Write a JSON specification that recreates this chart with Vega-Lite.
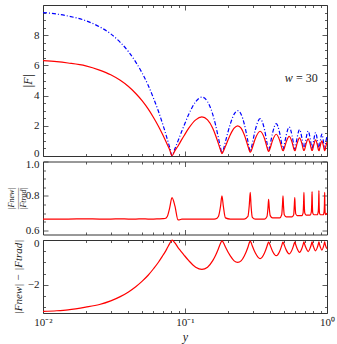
{
 "$schema": "https://vega.github.io/schema/vega-lite/v6.json",
 "padding": {"left": 6, "top": 4, "right": 5, "bottom": 2},
 "spacing": 5.5,
 "bounds": "flush",
 "config": {
  "font": "Liberation Serif",
  "view": {"stroke": "#333", "strokeWidth": 1},
  "axis": {"domain": false, "grid": false, "tickColor": "#333", "tickWidth": 0.8, "labelFont": "Liberation Serif", "labelFontSize": 11, "labelColor": "#222", "titleFont": "Liberation Serif", "titleFontWeight": "normal", "titleColor": "#222", "labelFlush": false, "labelOverlap": false, "labelPadding": 9},
  "line": {"strokeWidth": 1.2, "clip": true}
 },
 "datasets": {"c": [
  {"y":0.01,"B":9.50,"R":6.32,"Q":0.665,"D":-3.18},
  {"y":0.0125,"B":9.40,"R":6.25,"Q":0.665,"D":-3.15},
  {"y":0.015,"B":9.27,"R":6.16,"Q":0.665,"D":-3.11},
  {"y":0.02,"B":8.96,"R":5.97,"Q":0.666,"D":-2.99},
  {"y":0.025,"B":8.56,"R":5.69,"Q":0.665,"D":-2.87},
  {"y":0.03,"B":8.09,"R":5.38,"Q":0.665,"D":-2.71},
  {"y":0.035,"B":7.53,"R":5.01,"Q":0.666,"D":-2.52},
  {"y":0.04,"B":6.91,"R":4.60,"Q":0.665,"D":-2.31},
  {"y":0.045,"B":6.22,"R":4.14,"Q":0.665,"D":-2.08},
  {"y":0.05,"B":5.48,"R":3.65,"Q":0.666,"D":-1.83},
  {"y":0.055,"B":4.69,"R":3.12,"Q":0.665,"D":-1.57},
  {"y":0.06,"B":3.83,"R":2.55,"Q":0.665,"D":-1.28},
  {"y":0.065,"B":2.96,"R":1.97,"Q":0.666,"D":-0.99},
  {"y":0.07,"B":2.05,"R":1.37,"Q":0.667,"D":-0.68},
  {"y":0.0723,"B":1.63,"R":1.09,"Q":0.668,"D":-0.54},
  {"y":0.075,"B":1.12,"R":0.76,"Q":0.68,"D":-0.36},
  {"y":0.078,"B":0.57,"R":0.41,"Q":0.73,"D":-0.16},
  {"y":0.081,"B":0.03,"R":0.024,"Q":0.79,"D":-0.006},
  {"y":0.085,"B":0.49,"R":0.36,"Q":0.74,"D":-0.13},
  {"y":0.0893,"B":1.00,"R":0.66,"Q":0.66,"D":-0.34},
  {"y":0.0911,"B":1.21,"R":0.80,"Q":0.66,"D":-0.41},
  {"y":0.095,"B":1.65,"R":1.10,"Q":0.665,"D":-0.55},
  {"y":0.0987,"B":2.04,"R":1.36,"Q":0.665,"D":-0.68},
  {"y":0.1063,"B":2.76,"R":1.84,"Q":0.665,"D":-0.92},
  {"y":0.1189,"B":3.60,"R":2.39,"Q":0.665,"D":-1.21},
  {"y":0.1315,"B":3.90,"R":2.59,"Q":0.665,"D":-1.31},
  {"y":0.1441,"B":3.60,"R":2.39,"Q":0.665,"D":-1.21},
  {"y":0.1568,"B":2.76,"R":1.84,"Q":0.665,"D":-0.92},
  {"y":0.1643,"B":2.04,"R":1.36,"Q":0.666,"D":-0.68},
  {"y":0.1719,"B":1.21,"R":0.82,"Q":0.68,"D":-0.39},
  {"y":0.178,"B":0.53,"R":0.39,"Q":0.74,"D":-0.14},
  {"y":0.182,"B":0.20,"R":0.16,"Q":0.80,"D":-0.04},
  {"y":0.1862,"B":0.425,"R":0.31,"Q":0.74,"D":-0.11},
  {"y":0.1926,"B":0.948,"R":0.637,"Q":0.672,"D":-0.311},
  {"y":0.2085,"B":2.12,"R":1.41,"Q":0.665,"D":-0.71},
  {"y":0.2218,"B":2.77,"R":1.84,"Q":0.665,"D":-0.93},
  {"y":0.235,"B":3.00,"R":2.00,"Q":0.665,"D":-1.00},
  {"y":0.2483,"B":2.77,"R":1.84,"Q":0.665,"D":-0.93},
  {"y":0.2615,"B":2.12,"R":1.41,"Q":0.665,"D":-0.71},
  {"y":0.2774,"B":0.974,"R":0.66,"Q":0.68,"D":-0.32},
  {"y":0.2838,"B":0.48,"R":0.36,"Q":0.75,"D":-0.12},
  {"y":0.288,"B":0.30,"R":0.25,"Q":0.82,"D":-0.05},
  {"y":0.292,"B":0.43,"R":0.32,"Q":0.74,"D":-0.11},
  {"y":0.298,"B":0.82,"R":0.55,"Q":0.675,"D":-0.27},
  {"y":0.313,"B":1.746,"R":1.16,"Q":0.665,"D":-0.58},
  {"y":0.338,"B":2.47,"R":1.64,"Q":0.665,"D":-0.83},
  {"y":0.363,"B":1.746,"R":1.16,"Q":0.665,"D":-0.58},
  {"y":0.378,"B":0.86,"R":0.58,"Q":0.68,"D":-0.28},
  {"y":0.384,"B":0.505,"R":0.37,"Q":0.73,"D":-0.14},
  {"y":0.388,"B":0.40,"R":0.31,"Q":0.78,"D":-0.09},
  {"y":0.3921,"B":0.48,"R":0.35,"Q":0.73,"D":-0.13},
  {"y":0.3982,"B":0.77,"R":0.53,"Q":0.685,"D":-0.24},
  {"y":0.4135,"B":1.513,"R":1.02,"Q":0.672,"D":-0.50},
  {"y":0.439,"B":2.14,"R":1.44,"Q":0.672,"D":-0.70},
  {"y":0.4645,"B":1.513,"R":1.02,"Q":0.672,"D":-0.50},
  {"y":0.4798,"B":0.80,"R":0.55,"Q":0.69,"D":-0.25},
  {"y":0.4859,"B":0.52,"R":0.39,"Q":0.75,"D":-0.13},
  {"y":0.49,"B":0.45,"R":0.36,"Q":0.80,"D":-0.09},
  {"y":0.4941,"B":0.51,"R":0.38,"Q":0.74,"D":-0.13},
  {"y":0.5003,"B":0.745,"R":0.51,"Q":0.69,"D":-0.23},
  {"y":0.5158,"B":1.357,"R":0.92,"Q":0.678,"D":-0.44},
  {"y":0.5415,"B":1.92,"R":1.30,"Q":0.678,"D":-0.62},
  {"y":0.5673,"B":1.357,"R":0.92,"Q":0.678,"D":-0.44},
  {"y":0.5827,"B":0.745,"R":0.51,"Q":0.69,"D":-0.23},
  {"y":0.5889,"B":0.51,"R":0.38,"Q":0.75,"D":-0.13},
  {"y":0.593,"B":0.45,"R":0.36,"Q":0.79,"D":-0.095},
  {"y":0.5968,"B":0.50,"R":0.37,"Q":0.74,"D":-0.13},
  {"y":0.6025,"B":0.70,"R":0.49,"Q":0.695,"D":-0.21},
  {"y":0.6168,"B":1.237,"R":0.85,"Q":0.685,"D":-0.39},
  {"y":0.6405,"B":1.75,"R":1.20,"Q":0.685,"D":-0.55},
  {"y":0.6643,"B":1.237,"R":0.85,"Q":0.685,"D":-0.39},
  {"y":0.6785,"B":0.70,"R":0.49,"Q":0.70,"D":-0.21},
  {"y":0.6842,"B":0.50,"R":0.38,"Q":0.76,"D":-0.12},
  {"y":0.688,"B":0.45,"R":0.37,"Q":0.82,"D":-0.08},
  {"y":0.6919,"B":0.495,"R":0.37,"Q":0.75,"D":-0.125},
  {"y":0.6977,"B":0.68,"R":0.47,"Q":0.70,"D":-0.21},
  {"y":0.7123,"B":1.167,"R":0.80,"Q":0.688,"D":-0.36},
  {"y":0.7365,"B":1.65,"R":1.135,"Q":0.688,"D":-0.515},
  {"y":0.7608,"B":1.167,"R":0.80,"Q":0.688,"D":-0.36},
  {"y":0.7753,"B":0.68,"R":0.48,"Q":0.705,"D":-0.20},
  {"y":0.7811,"B":0.495,"R":0.38,"Q":0.76,"D":-0.12},
  {"y":0.785,"B":0.45,"R":0.37,"Q":0.825,"D":-0.08},
  {"y":0.7887,"B":0.49,"R":0.37,"Q":0.75,"D":-0.12},
  {"y":0.7942,"B":0.657,"R":0.46,"Q":0.70,"D":-0.20},
  {"y":0.808,"B":1.096,"R":0.756,"Q":0.69,"D":-0.34},
  {"y":0.831,"B":1.55,"R":1.07,"Q":0.69,"D":-0.48},
  {"y":0.854,"B":1.096,"R":0.756,"Q":0.69,"D":-0.34},
  {"y":0.8678,"B":0.657,"R":0.46,"Q":0.71,"D":-0.19},
  {"y":0.8733,"B":0.49,"R":0.37,"Q":0.76,"D":-0.12},
  {"y":0.877,"B":0.45,"R":0.37,"Q":0.83,"D":-0.08},
  {"y":0.8804,"B":0.485,"R":0.36,"Q":0.75,"D":-0.12},
  {"y":0.8856,"B":0.634,"R":0.44,"Q":0.70,"D":-0.19},
  {"y":0.8985,"B":1.025,"R":0.71,"Q":0.69,"D":-0.32},
  {"y":0.92,"B":1.45,"R":1.00,"Q":0.69,"D":-0.45},
  {"y":0.9415,"B":1.025,"R":0.71,"Q":0.69,"D":-0.32},
  {"y":0.9544,"B":0.634,"R":0.45,"Q":0.71,"D":-0.18},
  {"y":0.9596,"B":0.485,"R":0.37,"Q":0.76,"D":-0.115},
  {"y":0.963,"B":0.45,"R":0.37,"Q":0.82,"D":-0.08},
  {"y":0.9662,"B":0.48,"R":0.36,"Q":0.75,"D":-0.12},
  {"y":0.971,"B":0.615,"R":0.43,"Q":0.70,"D":-0.185},
  {"y":0.983,"B":0.96,"R":0.66,"Q":0.69,"D":-0.30},
  {"y":1.0,"B":1.30,"R":0.91,"Q":0.70,"D":-0.39}
 ]},
 "vconcat": [
  {
   "width": 284, "height": 151,
   "layer": [
    {"data": {"name": "c"}, "mark": {"type": "line", "color": "#0000ff", "strokeDash": [4, 2, 1, 2], "strokeWidth": 1.2, "interpolate": "monotone"},
     "encoding": {
      "x": {"field": "y", "type": "quantitative", "scale": {"type": "log", "domain": [0.01, 1], "nice": false},
            "axis": {"orient": "bottom", "values": [0.01,0.02,0.03,0.04,0.05,0.06,0.07,0.08,0.09,0.1,0.2,0.3,0.4,0.5,0.6,0.7,0.8,0.9,1], "tickSize": {"condition": {"test": "datum.value == 0.01 || datum.value == 0.1 || datum.value == 1", "value": -5}, "value": -2.5}, "labels": false, "title": null}},
      "y": {"field": "B", "type": "quantitative", "scale": {"domain": [0, 10], "nice": false, "zero": false},
            "axis": {"orient": "left", "values": [0,0.5,1,1.5,2,2.5,3,3.5,4,4.5,5,5.5,6,6.5,7,7.5,8,8.5,9,9.5], "tickSize": {"condition": {"test": "datum.value % 2 == 0", "value": -5}, "value": -2.5}, "labelExpr": "datum.value % 2 == 0 ? format(datum.value, 'd') : ''", "labelOffset": {"condition": {"test": "datum.value == 0", "value": -3}, "value": 0}, "title": "|F|", "titleFontStyle": "italic", "titleFontSize": 12, "titleX": -16, "titleBaseline": "middle"}}
     }},
    {"data": {"name": "c"}, "mark": {"type": "line", "color": "#ff0000", "strokeWidth": 1.2, "interpolate": "monotone"},
     "encoding": {
      "x": {"field": "y", "type": "quantitative", "scale": {"type": "log", "domain": [0.01, 1], "nice": false},
            "axis": {"orient": "top", "values": [0.01,0.02,0.03,0.04,0.05,0.06,0.07,0.08,0.09,0.1,0.2,0.3,0.4,0.5,0.6,0.7,0.8,0.9,1], "tickSize": {"condition": {"test": "datum.value == 0.01 || datum.value == 0.1 || datum.value == 1", "value": -5}, "value": -2.5}, "labels": false, "title": null}},
      "y": {"field": "R", "type": "quantitative", "scale": {"domain": [0, 10], "nice": false, "zero": false},
            "axis": {"orient": "right", "values": [0,0.5,1,1.5,2,2.5,3,3.5,4,4.5,5,5.5,6,6.5,7,7.5,8,8.5,9,9.5], "tickSize": {"condition": {"test": "datum.value % 2 == 0", "value": -5}, "value": -2.5}, "labels": false, "title": null}}
     }},
    {"data": {"values": [{}]}, "mark": {"type": "text", "text": "w", "fontStyle": "italic", "fontSize": 12, "align": "left", "baseline": "middle", "color": "#222", "font": "Liberation Serif"},
     "encoding": {"x": {"datum": 0.505, "type": "quantitative", "axis": null}, "y": {"datum": 5.17, "type": "quantitative", "axis": null}}},
    {"data": {"values": [{}]}, "mark": {"type": "text", "text": "= 30", "fontSize": 12, "align": "left", "baseline": "middle", "color": "#222", "font": "Liberation Serif"},
     "encoding": {"x": {"datum": 0.605, "type": "quantitative", "axis": null}, "y": {"datum": 5.17, "type": "quantitative", "axis": null}}}
   ],
   "resolve": {"axis": {"x": "independent", "y": "independent"}}
  },
  {
   "width": 284, "height": 73,
   "layer": [
    {"data": {"name": "c"}, "mark": {"type": "line", "color": "#ff0000", "strokeWidth": 1.2, "interpolate": "monotone"},
     "encoding": {
      "x": {"field": "y", "type": "quantitative", "scale": {"type": "log", "domain": [0.01, 1], "nice": false},
            "axis": {"orient": "bottom", "values": [0.01,0.02,0.03,0.04,0.05,0.06,0.07,0.08,0.09,0.1,0.2,0.3,0.4,0.5,0.6,0.7,0.8,0.9,1], "tickSize": {"condition": {"test": "datum.value == 0.01 || datum.value == 0.1 || datum.value == 1", "value": -5}, "value": -2.5}, "labels": false, "title": null}},
      "y": {"field": "Q", "type": "quantitative", "scale": {"domain": [0.575, 1.0], "nice": false, "zero": false},
            "axis": {"orient": "left", "values": [0.6,0.65,0.7,0.75,0.8,0.85,0.9,0.95,1], "tickSize": {"condition": {"test": "datum.value == 0.6 || datum.value == 0.8 || datum.value == 1", "value": -5}, "value": -2.5}, "labelExpr": "(datum.value == 0.6 || datum.value == 0.8 || datum.value == 1) ? format(datum.value, '.1f') : ''", "labelOffset": {"condition": {"test": "datum.value == 1", "value": 3}, "value": 0}, "title": ["|Fnew|", "———", "|Ftrad|"], "titleFontStyle": "italic", "titleFontSize": 8, "titleLineHeight": 6, "titleX": -32, "titleBaseline": "middle"}}
     }},
    {"data": {"name": "c"}, "mark": {"type": "line", "color": "#ff0000", "opacity": 0},
     "encoding": {
      "x": {"field": "y", "type": "quantitative", "scale": {"type": "log", "domain": [0.01, 1], "nice": false},
            "axis": {"orient": "top", "values": [0.01,0.02,0.03,0.04,0.05,0.06,0.07,0.08,0.09,0.1,0.2,0.3,0.4,0.5,0.6,0.7,0.8,0.9,1], "tickSize": {"condition": {"test": "datum.value == 0.01 || datum.value == 0.1 || datum.value == 1", "value": -5}, "value": -2.5}, "labels": false, "title": null}},
      "y": {"field": "Q", "type": "quantitative", "scale": {"domain": [0.575, 1.0], "nice": false, "zero": false},
            "axis": {"orient": "right", "values": [0.6,0.65,0.7,0.75,0.8,0.85,0.9,0.95,1], "tickSize": {"condition": {"test": "datum.value == 0.6 || datum.value == 0.8 || datum.value == 1", "value": -5}, "value": -2.5}, "labels": false, "title": null}}
     }}
   ],
   "resolve": {"axis": {"x": "independent", "y": "independent"}}
  },
  {
   "width": 284, "height": 73,
   "layer": [
    {"data": {"name": "c"}, "mark": {"type": "line", "color": "#ff0000", "strokeWidth": 1.2, "interpolate": "monotone"},
     "encoding": {
      "x": {"field": "y", "type": "quantitative", "scale": {"type": "log", "domain": [0.01, 1], "nice": false},
            "axis": {"orient": "bottom", "values": [0.01,0.02,0.03,0.04,0.05,0.06,0.07,0.08,0.09,0.1,0.2,0.3,0.4,0.5,0.6,0.7,0.8,0.9,1], "tickSize": {"condition": {"test": "datum.value == 0.01 || datum.value == 0.1 || datum.value == 1", "value": -5}, "value": -2.5}, "labelExpr": "datum.value == 0.01 ? '10⁻²' : datum.value == 0.1 ? '10⁻¹' : datum.value == 1 ? '10⁰' : ''", "labelPadding": 8, "title": "y", "titleFontStyle": "italic", "titleFontSize": 12, "titlePadding": 2}},
      "y": {"field": "D", "type": "quantitative", "scale": {"domain": [-3.25, 0], "nice": false, "zero": false},
            "axis": {"orient": "left", "values": [-3,-2.5,-2,-1.5,-1,-0.5,0], "tickSize": {"condition": {"test": "datum.value == 0 || datum.value == -2", "value": -5}, "value": -2.5}, "labelExpr": "datum.value == 0 ? '0' : datum.value == -2 ? '−2' : ''", "labelOffset": {"condition": {"test": "datum.value == 0", "value": 3}, "value": 0}, "title": "|Fnew| − |Ftrad|", "titleFontStyle": "italic", "titleFontSize": 11, "titleX": -25, "titleBaseline": "middle"}}
     }},
    {"data": {"name": "c"}, "mark": {"type": "line", "color": "#ff0000", "opacity": 0},
     "encoding": {
      "x": {"field": "y", "type": "quantitative", "scale": {"type": "log", "domain": [0.01, 1], "nice": false},
            "axis": {"orient": "top", "values": [0.01,0.02,0.03,0.04,0.05,0.06,0.07,0.08,0.09,0.1,0.2,0.3,0.4,0.5,0.6,0.7,0.8,0.9,1], "tickSize": {"condition": {"test": "datum.value == 0.01 || datum.value == 0.1 || datum.value == 1", "value": -5}, "value": -2.5}, "labels": false, "title": null}},
      "y": {"field": "D", "type": "quantitative", "scale": {"domain": [-3.25, 0], "nice": false, "zero": false},
            "axis": {"orient": "right", "values": [-3,-2.5,-2,-1.5,-1,-0.5,0], "tickSize": {"condition": {"test": "datum.value == 0 || datum.value == -2", "value": -5}, "value": -2.5}, "labels": false, "title": null}}
     }}
   ],
   "resolve": {"axis": {"x": "independent", "y": "independent"}}
  }
 ]
}
